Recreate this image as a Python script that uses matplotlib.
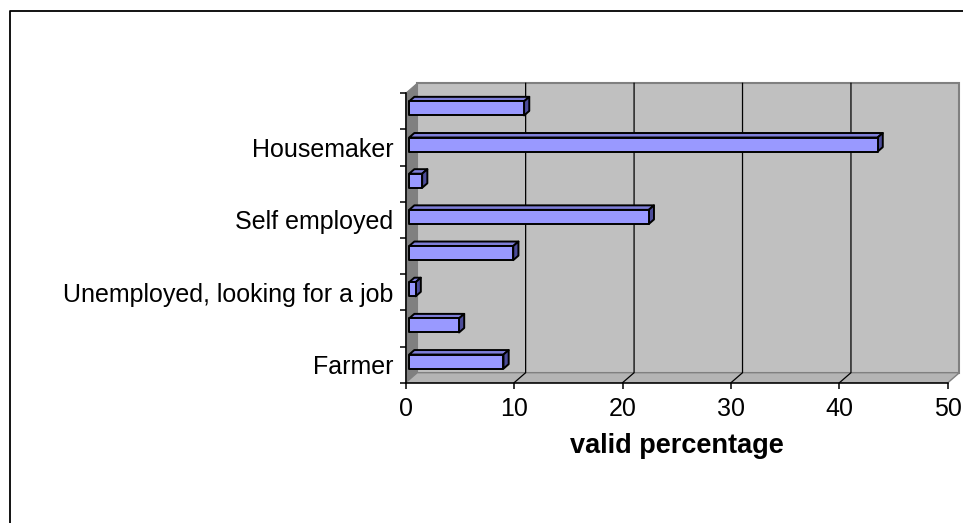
import matplotlib
matplotlib.use("Agg")
import matplotlib.pyplot as plt
import matplotlib.patches as patches
import matplotlib.transforms as mtransforms
from matplotlib.lines import Line2D
import numpy as np

plt.rcParams['font.family'] = ['Liberation Sans', 'DejaVu Sans']

# occupations, bottom to top; only every other label fits on the axis
occupation_labels = ["Farmer", "", "Unemployed, looking for a job", "",
                     "Self employed", "", "Housemaker", ""]
valid_percentage = [8.7, 4.6, 0.6, 9.6, 22.1, 1.2, 43.2, 10.6]
x_ticks = [0, 10, 20, 30, 40, 50]

DPI = 100
W, H = 963, 523

# depth of the fake 3d box in pixels (right, up)
DEPTH = np.array([11.5, 10.0])
BAR_FRONT = 0.30
BAR_BACK = 0.75
BAR_HEIGHT = 0.39

WALL = "#C0C0C0"
WALL_EDGE = "#808080"
SIDE_WALL = "#808080"
FLOOR = "#B4B4B4"
BAR_FACE = "#9999FF"
BAR_TOP = "#7E7ED8"
BAR_SIDE = "#4C4C99"

fig = plt.figure(figsize=(W / DPI, H / DPI), dpi=DPI)
ax = fig.add_axes([405.7 / W, 1 - 382.7 / H, 542.2 / W, 289.4 / H])
ax.set_xlim(0, 50)
ax.set_ylim(0, len(occupation_labels))
ax.patch.set_visible(False)

ident = mtransforms.IdentityTransform()


def to_px(x, y, depth):
	# data point on the front plane, pushed back by a fraction of the box depth
	px = ax.transData.transform((x, y))
	return px + DEPTH * depth


def poly(points, **kw):
	p = patches.Polygon([to_px(*pt) for pt in points], closed=True,
						transform=ident, clip_on=False, **kw)
	ax.add_patch(p)
	return p


ncat = len(occupation_labels)
xmax = x_ticks[-1]

# walls and floor
poly([(0, 0, 1), (xmax, 0, 1), (xmax, ncat, 1), (0, ncat, 1)],
	 facecolor=WALL, edgecolor=WALL_EDGE, lw=1.5, zorder=0.5)
poly([(0, 0, 0), (0, 0, 1), (0, ncat, 1), (0, ncat, 0)],
	 facecolor=SIDE_WALL, edgecolor=SIDE_WALL, lw=0.8, zorder=0.55)
poly([(0, 0, 0), (xmax, 0, 0), (xmax, 0, 1), (0, 0, 1)],
	 facecolor=FLOOR, edgecolor=WALL_EDGE, lw=1.0, zorder=0.6)

# gridlines across the floor and up the back wall
for v in x_ticks[1:-1]:
	pts = np.array([to_px(v, 0, 0), to_px(v, 0, 1), to_px(v, ncat, 1)])
	ax.add_line(Line2D(pts[:, 0], pts[:, 1], transform=ident, color="black",
					   lw=0.9, clip_on=False, zorder=0.7))

# bars: top face, side face, then the front face
for i, val in enumerate(valid_percentage):
	y0 = i + 0.5 - BAR_HEIGHT / 2
	y1 = i + 0.5 + BAR_HEIGHT / 2
	edge = dict(edgecolor="black", lw=1.4, joinstyle="round", zorder=2)
	poly([(0, y1, BAR_FRONT), (val, y1, BAR_FRONT), (val, y1, BAR_BACK), (0, y1, BAR_BACK)],
		 facecolor=BAR_TOP, **edge)
	poly([(val, y0, BAR_FRONT), (val, y0, BAR_BACK), (val, y1, BAR_BACK), (val, y1, BAR_FRONT)],
		 facecolor=BAR_SIDE, **edge)
	poly([(0, y0, BAR_FRONT), (val, y0, BAR_FRONT), (val, y1, BAR_FRONT), (0, y1, BAR_FRONT)],
		 facecolor=BAR_FACE, **edge)

# axes
for side in ["top", "right"]:
	ax.spines[side].set_visible(False)
for side in ["left", "bottom"]:
	ax.spines[side].set_linewidth(1.1)
	ax.spines[side].set_zorder(3)

ax.set_xticks(x_ticks)
ax.tick_params(axis="x", direction="out", length=4, width=1.1, pad=6, labelsize=18)
ax.set_yticks(np.arange(ncat + 1))
ax.set_yticklabels([])
ax.tick_params(axis="y", which="major", direction="out", length=4, width=1.1)
ax.set_yticks(np.arange(ncat) + 0.5, minor=True)
ax.set_yticklabels(occupation_labels, minor=True)
ax.tick_params(axis="y", which="minor", length=0, pad=9, labelsize=18)

ax.set_xlabel("valid percentage", fontsize=19.5, fontweight="bold", labelpad=9)

# outer chart frame
fig.add_artist(Line2D([9.5 / W, 9.5 / W, 1.01], [-0.01, 1 - 11 / H, 1 - 11 / H],
					  transform=fig.transFigure, color="black", lw=1.3))

fig.savefig("out.png", dpi=DPI)
